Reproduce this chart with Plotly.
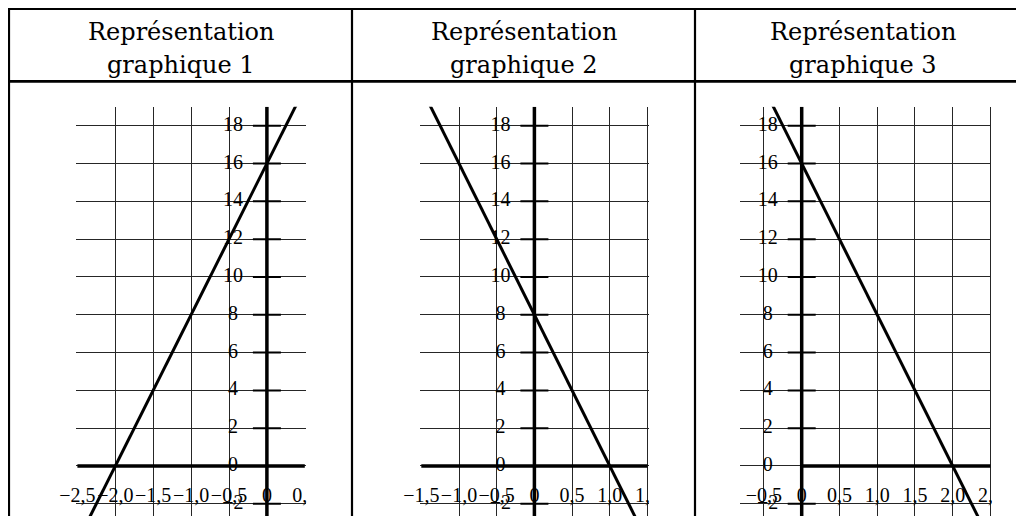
import plotly.graph_objects as go

# ---------------- data ----------------
header_line1 = ["Représentation", "Représentation", "Représentation"]
header_line2 = ["graphique 1", "graphique 2", "graphique 3"]

x_ticks = [
    [-2.5, -2.0, -1.5, -1.0, -0.5, 0.0, 0.5],
    [-1.5, -1.0, -0.5, 0.0, 0.5, 1.0, 1.5],
    [-0.5, 0.0, 0.5, 1.0, 1.5, 2.0, 2.5],
]
x_labels = [
    ["−2,5", "−2,0", "−1,5", "−1,0", "−0,5", "0", "0,5"],
    ["−1,5", "−1,0", "−0,5", "0", "0,5", "1,0", "1,5"],
    ["−0,5", "0", "0,5", "1,0", "1,5", "2,0", "2,5"],
]
y_ticks = [-2, 0, 2, 4, 6, 8, 10, 12, 14, 16, 18]
y_labels = ["−2", "0", "2", "4", "6", "8", "10", "12", "14", "16", "18"]

# points on each straight line
line_x = [[-2.5, 0.5], [-1.5, 1.5], [-0.5, 2.5]]
line_y = [[-4, 20], [20, -4], [20, -4]]

# extent of the thick x axis in each graph
axis_x_span = [[-2.5, 0.5], [-1.5, 1.5], [0.0, 2.5]]
# visible window of each graph (x)
x_view = [[-2.5, 0.5], [-1.5, 1.5], [-0.808, 2.5]]
y_view_top = 19

# ---------------- geometry (page pixels) ----------------
W, H = 1024, 516
OFF = 8  # body margin of the html page
zero_px = [266.9, 534.4, 801.7]
px_per_unit = [75.8, 75.4, 75.5]
y_zero_px = 466.0
y_px_per_unit = 18.906
y_top_px = y_zero_px - y_view_top * y_px_per_unit
col_edges = [9.0, 352, 695, 1032]
top_y, head_y = 9.0, 81.3


def px(x):
    return (x - OFF) / W


def py(y):
    return 1 - (y - OFF) / H


y_bottom = -((H + OFF) - y_zero_px) / y_px_per_unit

fig = go.Figure()
layout = dict(
    width=W, height=H, margin=dict(l=0, r=0, t=0, b=0), autosize=False,
    paper_bgcolor="white", plot_bgcolor="white", showlegend=False,
    hovermode=False,
)

label_font = dict(family="Liberation Serif, serif", size=20, color="black")
shapes = []
annotations = []

for i in range(3):
    xa = "x" if i == 0 else f"x{i+1}"
    ya = "y" if i == 0 else f"y{i+1}"
    xkey = "xaxis" if i == 0 else f"xaxis{i+1}"
    ykey = "yaxis" if i == 0 else f"yaxis{i+1}"
    s = px_per_unit[i]
    pad = 1.0
    xmin, xmax = x_view[i]
    left_px = zero_px[i] + s * xmin - pad
    right_px = zero_px[i] + s * xmax + pad
    layout[xkey] = dict(
        domain=[px(left_px), px(right_px)],
        range=[xmin - pad / s, xmax + pad / s],
        tickmode="linear", tick0=0, dtick=0.5,
        showgrid=True, gridcolor="#262626", gridwidth=1,
        zeroline=False, showticklabels=False, ticks="", showline=False,
        anchor=ya, fixedrange=True,
    )
    layout[ykey] = dict(
        domain=[0, py(y_top_px)],
        range=[y_bottom, y_view_top],
        tickmode="linear", tick0=0, dtick=2,
        showgrid=True, gridcolor="#262626", gridwidth=1,
        zeroline=False, showticklabels=False, ticks="", showline=False,
        anchor=xa, fixedrange=True,
    )

    # x axis (thick)
    fig.add_trace(go.Scatter(x=axis_x_span[i], y=[0, 0], mode="lines",
                             line=dict(color="black", width=3.5),
                             xaxis=xa, yaxis=ya))
    # y axis (thick)
    fig.add_trace(go.Scatter(x=[0, 0], y=[y_bottom - 1, y_view_top], mode="lines",
                             line=dict(color="black", width=3.5),
                             xaxis=xa, yaxis=ya))
    # y axis tick marks
    ty = [t for t in y_ticks if t != 0]
    fig.add_trace(go.Scatter(x=[0] * len(ty), y=ty, mode="markers",
                             marker=dict(symbol="line-ew", size=20,
                                         line=dict(color="black", width=2)),
                             xaxis=xa, yaxis=ya))
    # the straight line
    fig.add_trace(go.Scatter(x=line_x[i], y=line_y[i], mode="lines",
                             line=dict(color="black", width=3),
                             xaxis=xa, yaxis=ya))
    # y tick labels (34 px to the left of the y axis)
    fig.add_trace(go.Scatter(x=[-34 / s] * len(y_ticks), y=y_ticks, mode="text",
                             text=y_labels, textposition="middle center",
                             textfont=label_font, cliponaxis=False,
                             xaxis=xa, yaxis=ya))
    # x tick labels (31 px below the x axis)
    fig.add_trace(go.Scatter(x=x_ticks[i], y=[-31 / y_px_per_unit] * len(x_ticks[i]),
                             mode="text", text=x_labels[i],
                             textposition="middle center",
                             textfont=label_font, cliponaxis=False,
                             xaxis=xa, yaxis=ya))

    # mask: the picture clips labels at the right edge of each graph
    mask_right = col_edges[i + 1] - 2
    shapes.append(dict(type="rect", xref="paper", yref="paper",
                       x0=px(right_px + 0.8), x1=px(mask_right),
                       y0=py(478), y1=py(H + OFF + 5),
                       fillcolor="white", line=dict(width=0), layer="above"))

    # header texts
    cx = (col_edges[i] + col_edges[i + 1]) / 2 if i < 2 else 862.5
    hfont = dict(family="DejaVu Serif, serif", size=24, color="black")
    annotations.append(dict(x=px(cx), y=py(32.3), xref="paper", yref="paper",
                            text=header_line1[i], showarrow=False,
                            xanchor="center", yanchor="middle", font=hfont))
    annotations.append(dict(x=px(cx), y=py(65.3), xref="paper", yref="paper",
                            text=header_line2[i], showarrow=False,
                            xanchor="center", yanchor="middle", font=hfont))

# table rules
rule = dict(color="black", width=2.2)
shapes.append(dict(type="line", xref="paper", yref="paper",
                   x0=px(col_edges[0] - 1), x1=px(W + 20), y0=py(top_y), y1=py(top_y),
                   line=rule, layer="above"))
shapes.append(dict(type="line", xref="paper", yref="paper",
                   x0=px(col_edges[0] - 1), x1=px(W + 20), y0=py(head_y), y1=py(head_y),
                   line=dict(color="black", width=2.7), layer="above"))
for xe in col_edges[:3]:
    shapes.append(dict(type="line", xref="paper", yref="paper",
                       x0=px(xe), x1=px(xe), y0=py(top_y - 1), y1=py(H + OFF + 5),
                       line=rule, layer="above"))

layout["shapes"] = shapes
layout["annotations"] = annotations
fig.update_layout(**layout)
fig.write_html("out.html")
